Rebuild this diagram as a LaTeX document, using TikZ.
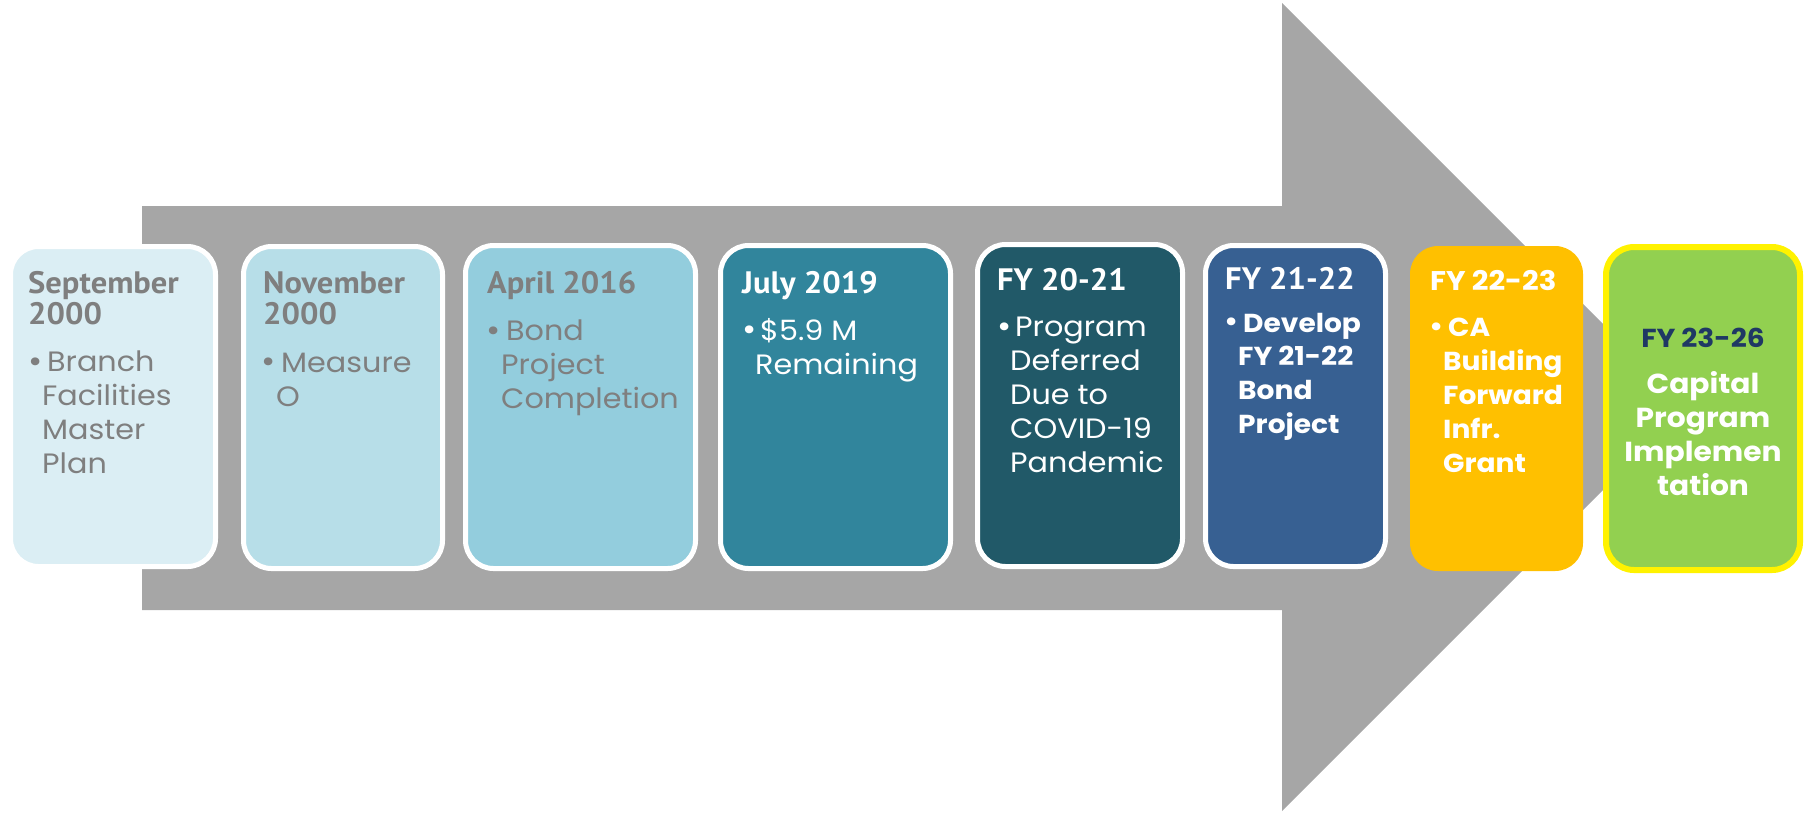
\documentclass[tikz,border=0pt]{standalone}
\usepackage{fontspec}
\setmainfont{Poppins}[FakeStretch=1.08]
\newfontfamily\hdfont{PT Sans}[FakeStretch=1.05]
\definecolor{arrowgray}{HTML}{A6A6A6}
\definecolor{txtgray}{HTML}{7F7F7F}
\definecolor{fillA}{HTML}{DBEEF4}
\definecolor{fillB}{HTML}{B7DEE8}
\definecolor{fillC}{HTML}{93CDDD}
\definecolor{fillD}{HTML}{31859C}
\definecolor{fillE}{HTML}{215968}
\definecolor{fillF}{HTML}{376092}
\definecolor{fillG}{HTML}{FFC000}
\definecolor{fillH}{HTML}{92D050}
\definecolor{navy}{HTML}{1F3864}
\newcommand{\fl}{\hspace*{5pt}}
\begin{document}
\begin{tikzpicture}[x=1pt,y=-1pt,
  tlbox/.style={rounded corners=28pt, draw=white, line width=5pt},
  hdr/.style={anchor=base west, inner sep=0pt, align=left, font=\hdfont\bfseries\fontsize{31}{31}\selectfont},
  txt/.style={anchor=base west, inner sep=0pt, align=left, font=\fontsize{28}{33.8}\selectfont},
  bold/.style={font=\bfseries\fontsize{26}{33.8}\selectfont},
  bul/.style={anchor=base, inner sep=0pt, font=\fontsize{32}{32}\selectfont}]
\useasboundingbox (0,0) rectangle (1812,815);
% the big arrow
\fill[arrowgray] (142,206) -- (1282,206) -- (1282,3) -- (1686,407) -- (1282,811) -- (1282,610) -- (142,610) -- cycle;
% boxes
\node[tlbox, fill=fillA, minimum width=205pt, minimum height=320pt] (b1) at (113,406.5) {};
\node[tlbox, fill=fillB, minimum width=199pt, minimum height=322pt] (b2) at (343,407.5) {};
\node[tlbox, fill=fillC, minimum width=230pt, minimum height=323pt] (b3) at (580.5,407) {};
\node[tlbox, fill=fillD, minimum width=230pt, minimum height=323pt] (b4) at (835.5,407) {};
\node[tlbox, fill=fillE, minimum width=205pt, minimum height=322pt] (b5) at (1080,405.5) {};
\node[tlbox, fill=fillF, minimum width=180pt, minimum height=321pt] (b6) at (1295.5,406) {};
\node[tlbox, fill=fillG, draw=none, minimum width=173pt, minimum height=325pt] (b7) at (1496.5,408.5) {};
\node[tlbox, fill=fillH, draw=yellow, line width=6pt, minimum width=194pt, minimum height=323pt] (b8) at (1703,408.5) {};
% (multi-line nodes sit on their last baseline)
% September 2000
\node[hdr, txtgray] (h1) at (28,324) {September\\2000};
\node[bul, txtgray] (d1) at (36,372) {\textbullet};
\node[txt, txtgray] (t1) at (42,473) {\fl Branch\\Facilities\\Master\\Plan};
% November 2000
\node[hdr, txtgray] (h2) at (263,324) {November\\2000};
\node[bul, txtgray] (d2) at (269,372) {\textbullet};
\node[txt, txtgray] (t2) at (276,406) {\fl Measure\\O};
% April 2016
\node[hdr, txtgray] (h3) at (487,293) {April 2016};
\node[bul, txtgray] (d3) at (494,341) {\textbullet};
\node[txt, txtgray] (t3) at (501,408.5) {\fl Bond\\Project\\Completion};
% July 2019
\node[hdr, white] (h4) at (742,293) {July 2019};
\node[bul, white] (d4) at (750,340) {\textbullet};
\node[txt, white] (t4) at (755,374) {\fl\$5.9 M\\Remaining};
% FY 20-21
\node[hdr, white] (h5) at (997,290) {FY 20-21};
\node[bul, white] (d5) at (1005,337) {\textbullet};
\node[txt, white] (t5) at (1010,472) {\fl Program\\Deferred\\Due to\\COVID-19\\Pandemic};
% FY 21-22
\node[hdr, white] (h6) at (1225,289) {FY 21-22};
\node[bul, white] (d6) at (1232,332) {\textbullet};
\node[txt, bold, white] (t6) at (1238,433.4) {\fl Develop\\FY 21-22\\Bond\\Project};
% FY 22-23
\node[hdr, white, font=\bfseries\fontsize{27}{27}\selectfont] (h7) at (1430,290) {FY 22-23};
\node[bul, white] (d7) at (1437,337) {\textbullet};
\node[txt, bold, white] (t7) at (1443,472) {\fl CA\\Building\\Forward\\Infr.\\Grant};
% FY 23-26
\node[anchor=base, inner sep=0pt, navy, font=\bfseries\fontsize{26}{26}\selectfont] (h8) at (1703,347) {FY 23-26};
\node[anchor=base, inner sep=0pt, white, align=center, font=\bfseries\fontsize{27.5}{34}\selectfont] (t8) at (1703,495) {Capital\\Program\\Implemen\\tation};
\end{tikzpicture}
\end{document}
